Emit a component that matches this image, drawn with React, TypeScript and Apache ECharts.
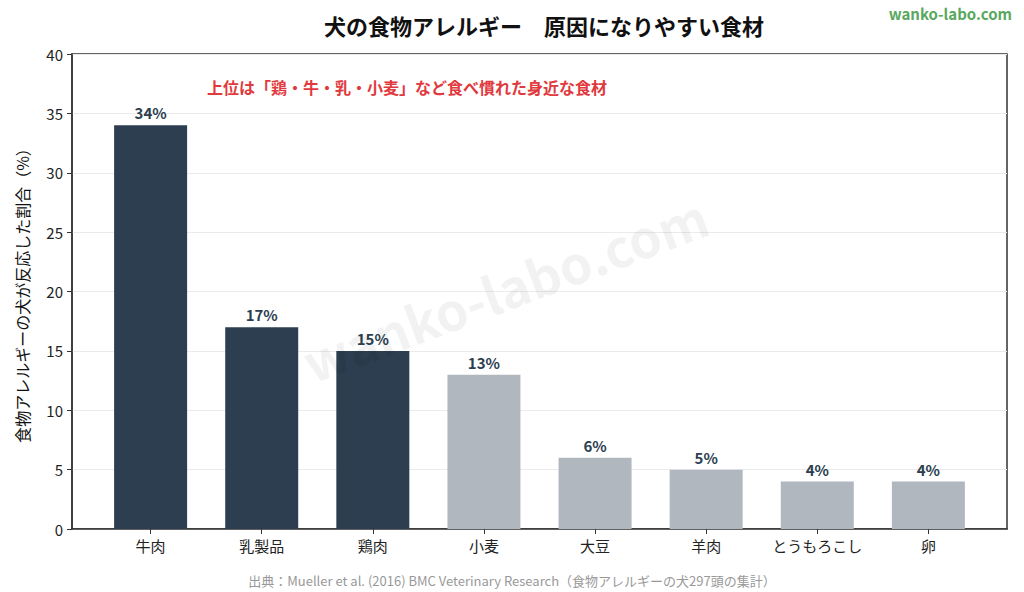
import React, { useEffect, useRef } from 'react';
import * as echarts from 'echarts';

const categories = ['牛肉', '乳製品', '鶏肉', '小麦', '大豆', '羊肉', 'とうもろこし', '卵'];
const values = [34, 17, 15, 13, 6, 5, 4, 4];
const highlighted = [true, true, true, false, false, false, false, false];
const positions = categories.map((_, i) => i);

const FONT = '"Noto Sans CJK JP", "Noto Sans", sans-serif';
const DARK = '#2c3e50';
const LIGHT = '#b0b7bf';

export default function App() {
  const chartRef = useRef<HTMLDivElement>(null);

  useEffect(() => {
    if (!chartRef.current) return;
    const chart = echarts.init(chartRef.current, undefined, { renderer: 'svg' });

    const option = {
      animation: false,
      backgroundColor: '#fff',
      textStyle: { fontFamily: FONT },
      title: {
        text: '犬の食物アレルギー　原因になりやすい食材',
        left: 539,
        top: 9,
        textAlign: 'center',
        textStyle: { fontFamily: FONT, fontSize: 22, fontWeight: 'bold', color: '#111' },
      },
      grid: {
        left: 72, right: 17, top: 54, bottom: 63,
        show: true, borderColor: '#333', borderWidth: 1.5, backgroundColor: 'transparent',
      },
      xAxis: {
        type: 'value',
        // matplotlib-style margins around the bars
        min: -0.7075,
        max: 7.7075,
        splitLine: { show: false },
        axisLine: { onZero: false, lineStyle: { color: '#333', width: 1.5 } },
        axisTick: { show: true, customValues: positions, length: 5, lineStyle: { color: '#333' } },
        axisLabel: {
          customValues: positions,
          formatter: (v: number) => categories[Math.round(v)] ?? '',
          color: '#222',
          fontSize: 15,
          margin: 9,
          fontFamily: FONT,
        },
      },
      yAxis: {
        type: 'value',
        min: 0,
        max: 40,
        interval: 5,
        name: '食物アレルギーの犬が反応した割合（%）',
        nameLocation: 'middle',
        nameGap: 42,
        nameTextStyle: { fontSize: 16, color: '#111', fontFamily: FONT },
        axisLine: { show: true, onZero: false, lineStyle: { color: '#333', width: 1.5 } },
        axisTick: { show: true, length: 5, lineStyle: { color: '#333' } },
        axisLabel: { color: '#222', fontSize: 15, margin: 9, fontFamily: FONT },
        splitLine: { lineStyle: { color: '#ebebeb', width: 1 } },
      },
      series: [
        {
          type: 'bar',
          barWidth: 73,
          data: values.map((v, i) => ({
            value: [i, v],
            itemStyle: { color: highlighted[i] ? DARK : LIGHT },
          })),
          label: {
            show: true,
            position: 'top',
            distance: 5,
            formatter: (p: any) => `${p.value[1]}%`,
            color: DARK,
            fontSize: 15,
            fontWeight: 'bold',
            fontFamily: FONT,
          },
        },
      ],
      graphic: [
        {
          type: 'text',
          left: 207,
          top: 79,
          style: {
            text: '上位は「鶏・牛・乳・小麦」など食べ慣れた身近な食材',
            fill: '#e0393e',
            font: `bold 16px ${FONT}`,
          },
        },
        {
          type: 'text',
          right: 12,
          top: 6,
          style: {
            text: 'wanko-labo.com',
            fill: '#5aa860',
            font: `bold 15px ${FONT}`,
          },
        },
        {
          type: 'text',
          x: 505,
          y: 288,
          rotation: 0.36,
          style: {
            text: 'wanko-labo.com',
            fill: 'rgba(0,0,0,0.05)',
            font: `bold 52px ${FONT}`,
            align: 'center',
            verticalAlign: 'middle',
          },
          z: 100,
        },
        {
          type: 'text',
          left: 'center',
          top: 574,
          style: {
            text: '出典：Mueller et al. (2016) BMC Veterinary Research（食物アレルギーの犬297頭の集計）',
            fill: '#999',
            font: `13px ${FONT}`,
          },
        },
      ],
    };

    chart.setOption(option);
    return () => {
      chart.dispose();
    };
  }, []);

  return (
    <div
      ref={chartRef}
      style={{ position: 'absolute', left: 0, top: 0, width: 1024, height: 592 }}
    />
  );
}
